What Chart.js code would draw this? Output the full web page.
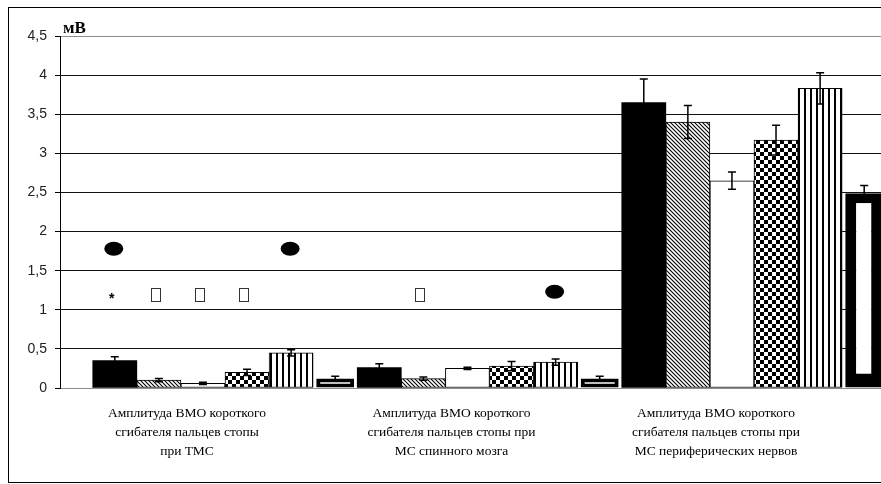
<!DOCTYPE html>
<html>
<head>
<meta charset="utf-8">
<script src="https://cdn.jsdelivr.net/npm/chart.js@4.4.1/dist/chart.umd.min.js"></script>
<style>
  html, body { margin: 0; padding: 0; background: #fff; overflow: hidden; }
  #frame { position: absolute; left: 8px; top: 7px; width: 900px; height: 474px; border: 1px solid #000; }
  #wrap { position: absolute; left: 0; top: 0; width: 881px; height: 484px; }
</style>
</head>
<body>
<div id="frame"></div>
<div id="wrap"><canvas id="c" width="881" height="484"></canvas></div>
<script>
// categories (three groups of bars)
const groupLabels = [
  ['Амплитуда ВМО короткого', 'сгибателя пальцев стопы', 'при ТМС'],
  ['Амплитуда ВМО короткого', 'сгибателя пальцев стопы при', 'МС спинного мозга'],
  ['Амплитуда ВМО короткого', 'сгибателя пальцев стопы при', 'МС периферических нервов']
];

// six series, values in mV, with their error bars
const seriesA = [0.35, 0.26, 3.65];  const errA = [0.05, 0.05, 0.30];
const seriesB = [0.10, 0.12, 3.40];  const errB = [0.02, 0.02, 0.21];
const seriesC = [0.06, 0.25, 2.65];  const errC = [0.015, 0.015, 0.11];
const seriesD = [0.20, 0.28, 3.17];  const errD = [0.04, 0.06, 0.19];
const seriesE = [0.45, 0.33, 3.83];  const errE = [0.04, 0.04, 0.20];
const seriesF = [0.12, 0.12, 2.49];  const errF = [0.03, 0.03, 0.10];

// significance marks: [group, series, value]
const dotMarks = [[0, 0, 1.78], [0, 4, 1.78], [1, 4, 1.23]];
const starMarks = [[0, 0, 1.17]];
const boxMarks = [[0, 1, 1.19], [0, 2, 1.19], [0, 3, 1.19], [1, 1, 1.19]];

// y axis
const yMin = 0, yMax = 4.5, yStep = 0.5;
const yUnit = 'мВ';

const canvas = document.getElementById('c');
const ctx = canvas.getContext('2d');

// fill patterns, like the old black & white office charts
function makePattern(size, draw) {
  const t = document.createElement('canvas');
  t.width = size; t.height = size;
  const g = t.getContext('2d');
  g.fillStyle = '#fff';
  g.fillRect(0, 0, size, size);
  g.fillStyle = '#000';
  g.strokeStyle = '#000';
  draw(g, size);
  return ctx.createPattern(t, 'repeat');
}

const hatch = makePattern(4, (g, s) => {
  g.lineWidth = 1.1;
  g.beginPath();
  g.moveTo(0, 0); g.lineTo(s, s);
  g.moveTo(-1, s - 1); g.lineTo(1, s + 1);
  g.moveTo(s - 1, -1); g.lineTo(s + 1, 1);
  g.stroke();
});
const checker = makePattern(8, (g) => {
  g.fillRect(0, 0, 4, 4);
  g.fillRect(4, 4, 4, 4);
});
const stripes = makePattern(6, (g, s) => {
  g.fillRect(0, 0, 2, s);
});

const seriesValues = [seriesA, seriesB, seriesC, seriesD, seriesE, seriesF];
const seriesErrs = [errA, errB, errC, errD, errE, errF];
const fills = ['#000', hatch, '#fff', checker, stripes, '#fff'];

const datasets = seriesValues.map((vals, i) => ({
  label: 'Серия ' + (i + 1),
  data: vals.map((v, j) => ({ x: j, y: v })),
  err: seriesErrs[i],
  backgroundColor: fills[i],
  borderColor: '#000',
  borderWidth: i === 0 ? 0 : 1,
  borderSkipped: false,
  categoryPercentage: 1,
  barPercentage: 1
}));
// last series: white bar inside a heavy black frame, a bit narrower
datasets[5].barPercentage = 0.86;
datasets[5].borderWidth = (c) => (c.raw && c.raw.y < 1) ? 4 : { top: 10, left: 11, right: 12, bottom: 14 };

const errorBars = {
  id: 'errorBars',
  afterDatasetsDraw(chart) {
    const c = chart.ctx, ys = chart.scales.y;
    c.save();
    c.strokeStyle = '#000';
    c.lineWidth = 1.5;
    chart.data.datasets.forEach((ds, i) => {
      chart.getDatasetMeta(i).data.forEach((bar, j) => {
        const v = ds.data[j].y, e = ds.err[j];
        const top = ys.getPixelForValue(v + e), bot = ys.getPixelForValue(v - e);
        c.beginPath();
        c.moveTo(bar.x, top); c.lineTo(bar.x, bot);
        c.moveTo(bar.x - 4, top); c.lineTo(bar.x + 4, top);
        c.moveTo(bar.x - 4, bot); c.lineTo(bar.x + 4, bot);
        c.stroke();
      });
    });
    c.restore();
  }
};

const marks = {
  id: 'marks',
  afterDraw(chart) {
    const c = chart.ctx, ys = chart.scales.y;
    const at = (m) => ({ x: chart.getDatasetMeta(m[1]).data[m[0]].x, y: ys.getPixelForValue(m[2]) });
    c.save();
    c.fillStyle = '#000';
    dotMarks.forEach(m => {
      const p = at(m);
      c.beginPath();
      c.ellipse(p.x - 1, p.y, 9.5, 7, 0, 0, Math.PI * 2);
      c.fill();
    });
    c.font = 'bold 14px "Liberation Sans"';
    c.textAlign = 'center';
    c.textBaseline = 'middle';
    starMarks.forEach(m => {
      const p = at(m);
      c.fillText('*', p.x - 3, p.y + 3);
    });
    c.strokeStyle = '#333';
    c.lineWidth = 1;
    boxMarks.forEach(m => {
      const p = at(m);
      c.strokeRect(Math.round(p.x - 8) + 0.5, Math.round(p.y - 7) + 0.5, 9, 13);
    });
    // unit over the value axis
    const a = chart.chartArea;
    c.font = 'bold 17px "Liberation Serif"';
    c.textAlign = 'left';
    c.textBaseline = 'alphabetic';
    c.fillText(yUnit, a.left + 3, a.top - 3);
    c.restore();
  }
};

const gridColor = (c) => (c.tick && (c.tick.value === yMax || c.tick.value === yMin)) ? '#8c8c8c' : '#111';

new Chart(ctx, {
  type: 'bar',
  data: { datasets: datasets },
  options: {
    responsive: false,
    animation: false,
    layout: { padding: { top: 36, left: 0, right: 0, bottom: 0 } },
    plugins: {
      legend: { display: false },
      tooltip: { enabled: false }
    },
    scales: {
      x: {
        type: 'linear',
        min: -0.6238,
        max: 2.4802,
        offset: false,
        grid: { display: false, drawTicks: false, offset: false },
        border: { display: true, color: '#8c8c8c', width: 1 },
        afterBuildTicks: (s) => { s.ticks = groupLabels.map((l, i) => ({ value: i })); },
        afterFit: (s) => { s.height = 96; },
        ticks: {
          autoSkip: false,
          maxRotation: 0,
          padding: 16,
          labelOffset: -38,
          color: '#000',
          font: { family: '"Liberation Serif", "Times New Roman", serif', size: 13.5, lineHeight: 1.41 },
          callback: (v) => groupLabels[v]
        }
      },
      y: {
        min: yMin,
        max: yMax,
        afterFit: (s) => { s.width = 60; },
        grid: { color: gridColor, lineWidth: 1, tickLength: 5, tickColor: '#000' },
        border: { display: true, color: '#000', width: 1 },
        ticks: {
          stepSize: yStep,
          padding: 8,
          color: '#222',
          font: { family: '"Liberation Sans", Arial, sans-serif', size: 14 },
          callback: (v) => String(v).replace('.', ',')
        }
      }
    }
  },
  plugins: [errorBars, marks]
});
</script>
</body>
</html>
